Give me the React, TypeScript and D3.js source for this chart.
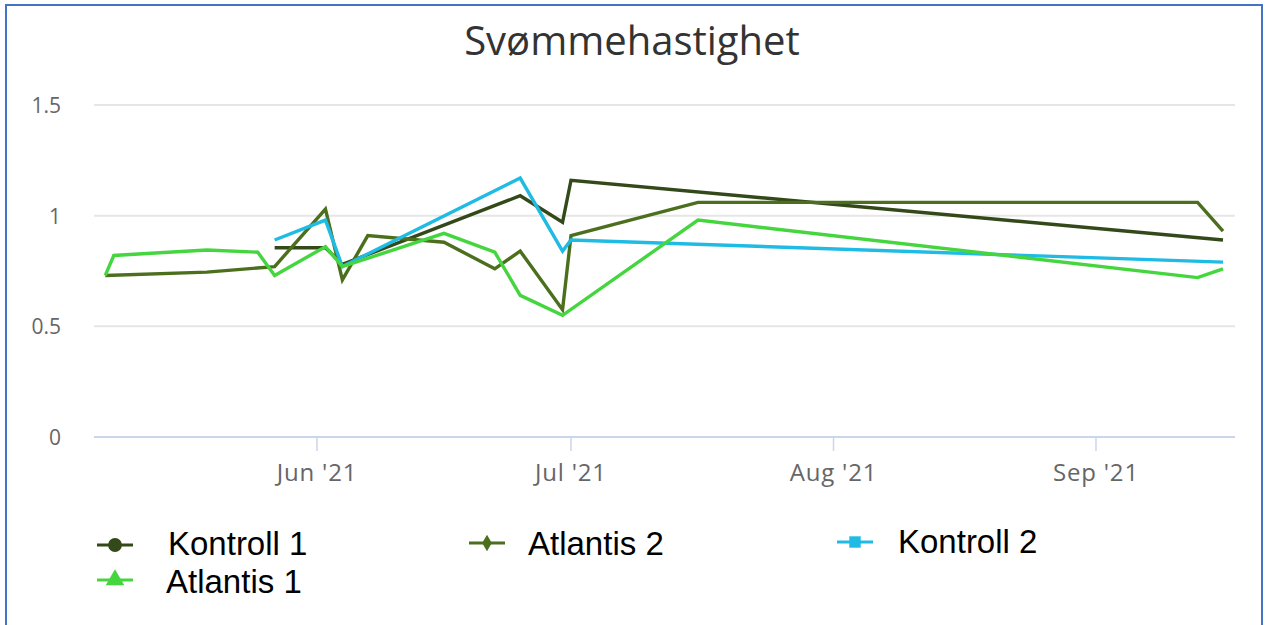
import React from "react";
import * as d3 from "d3";

const kontroll1Dates = ["2021-05-27", "2021-06-02", "2021-06-04", "2021-06-25", "2021-06-30", "2021-07-01", "2021-09-16"];
const kontroll1Values = [0.855, 0.855, 0.78, 1.09, 0.97, 1.16, 0.89];

const atlantis2Dates = ["2021-05-07", "2021-05-19", "2021-05-27", "2021-06-02", "2021-06-04", "2021-06-07", "2021-06-16", "2021-06-22", "2021-06-25", "2021-06-30", "2021-07-01", "2021-07-16", "2021-09-13", "2021-09-16"];
const atlantis2Values = [0.73, 0.745, 0.77, 1.03, 0.71, 0.91, 0.88, 0.76, 0.84, 0.575, 0.91, 1.06, 1.06, 0.93];

const kontroll2Dates = ["2021-05-27", "2021-06-02", "2021-06-04", "2021-06-25", "2021-06-30", "2021-07-01", "2021-09-16"];
const kontroll2Values = [0.89, 0.98, 0.77, 1.17, 0.84, 0.89, 0.79];

const atlantis1Dates = ["2021-05-07", "2021-05-08", "2021-05-19", "2021-05-25", "2021-05-27", "2021-06-02", "2021-06-04", "2021-06-16", "2021-06-22", "2021-06-25", "2021-06-30", "2021-07-16", "2021-09-13", "2021-09-16"];
const atlantis1Values = [0.73, 0.82, 0.845, 0.835, 0.73, 0.86, 0.77, 0.92, 0.835, 0.64, 0.55, 0.98, 0.72, 0.76];

const yTicks = [0, 0.5, 1, 1.5];
const yTickLabels = ["0", "0.5", "1", "1.5"];
const xTickDates = ["2021-06-01", "2021-07-01", "2021-08-01", "2021-09-01"];
const xTickLabels = ["Jun '21", "Jul '21", "Aug '21", "Sep '21"];

const title = "Svømmehastighet";

const parse = (s: string) => {
  const [y, m, d] = s.split("-").map(Number);
  return new Date(y, m - 1, d);
};

const series = [
  { name: "Kontroll 1", dates: kontroll1Dates, values: kontroll1Values, color: "#34491a", symbol: "circle" },
  { name: "Atlantis 2", dates: atlantis2Dates, values: atlantis2Values, color: "#4c6f1e", symbol: "diamond" },
  { name: "Kontroll 2", dates: kontroll2Dates, values: kontroll2Values, color: "#1fbbe4", symbol: "square" },
  { name: "Atlantis 1", dates: atlantis1Dates, values: atlantis1Values, color: "#45d63f", symbol: "triangle" },
];

const W = 1265;
const H = 625;
const left = 94;
const right = 1235;
const top = 105;
const bottom = 437;

export default function App() {
  const x = d3
    .scaleTime()
    .domain([new Date(2021, 4, 5, 16), new Date(2021, 8, 17, 10)])
    .range([left, right]);
  const y = d3.scaleLinear().domain([0, 1.5]).range([bottom, top]);

  const line = d3
    .line<[Date, number]>()
    .x((d) => x(d[0]))
    .y((d) => y(d[1]));

  const legendPos = [
    { mx: 115, my: 545, tx: 168, ty: 555 },
    { mx: 487, my: 543, tx: 528, ty: 555 },
    { mx: 855, my: 542, tx: 898, ty: 553 },
    { mx: 115, my: 580, tx: 166, ty: 593 },
  ];

  const symbolPath = (sym: string) => {
    const t =
      sym === "circle" ? d3.symbolCircle : sym === "diamond" ? d3.symbolDiamond : sym === "square" ? d3.symbolSquare : d3.symbolTriangle;
    const size = sym === "diamond" ? 80 : sym === "circle" ? 150 : sym === "square" ? 130 : 150;
    return d3.symbol().type(t).size(size)();
  };

  return (
    <svg width={W} height={H} style={{ position: "absolute", left: 0, top: 0, background: "#fff" }}>
      <rect x={0} y={0} width={W} height={H} fill="#fff" />
      <rect x={6} y={5} width={1256} height={640} fill="none" stroke="#4472c4" strokeWidth={2} />
      <text x={632} y={55} textAnchor="middle" fontFamily="Open Sans" fontSize={40} fill="#333">
        {title}
      </text>
      {yTicks.map((t, i) =>
        t === 0 ? null : (
          <line key={"g" + i} x1={left} x2={right} y1={y(t)} y2={y(t)} stroke="#e6e6e6" strokeWidth={2} />
        )
      )}
      <line x1={left} x2={right} y1={y(0)} y2={y(0)} stroke="#ccd6eb" strokeWidth={2} />
      {yTicks.map((t, i) => (
        <text key={"yl" + i} x={61} y={y(t) + 8} textAnchor="end" fontFamily="Open Sans" fontSize={21} fill="#666">
          {yTickLabels[i]}
        </text>
      ))}
      {xTickDates.map((d, i) => {
        const xx = x(parse(d));
        return (
          <g key={"xt" + i}>
            <line x1={xx} x2={xx} y1={bottom} y2={bottom + 14} stroke="#ccd6eb" strokeWidth={1.5} />
            <text x={xx} y={481} textAnchor="middle" fontFamily="Open Sans" fontSize={24} letterSpacing={0.8} fill="#666">
              {xTickLabels[i]}
            </text>
          </g>
        );
      })}
      {series.map((s, i) => {
        const pts: [Date, number][] = s.dates.map((d, j) => [parse(d), s.values[j]]);
        return (
          <path key={"s" + i} d={line(pts) || ""} fill="none" stroke={s.color} strokeWidth={3.4} strokeLinejoin="miter" />
        );
      })}
      {series.map((s, i) => {
        const p = legendPos[i];
        return (
          <g key={"lg" + i}>
            <line x1={p.mx - 18} x2={p.mx + 18} y1={p.my} y2={p.my} stroke={s.color} strokeWidth={3} />
            <path d={symbolPath(s.symbol) || ""} transform={`translate(${p.mx},${p.my})`} fill={s.color} />
            <text x={p.tx} y={p.ty} fontFamily="Liberation Sans" fontSize={33} fill="#000">
              {s.name}
            </text>
          </g>
        );
      })}
    </svg>
  );
}
